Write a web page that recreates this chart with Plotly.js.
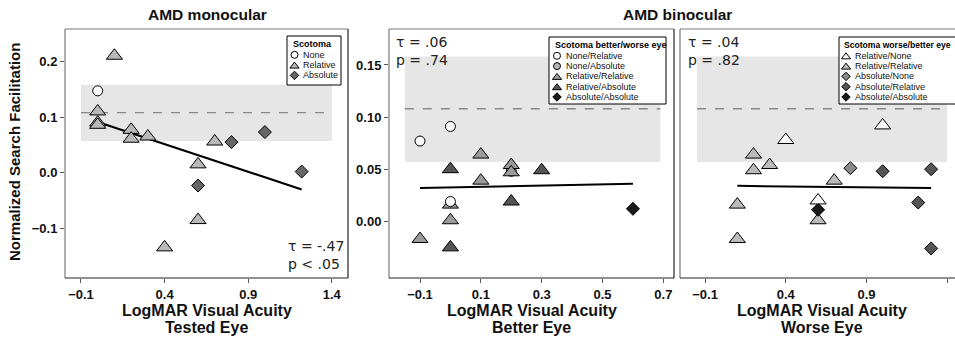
<!DOCTYPE html>
<html><head><meta charset="utf-8">
<script src="https://cdn.plot.ly/plotly-3.0.1.min.js"></script>
<style>body{margin:0;padding:0;background:#fff}#chart{width:955px;height:338px}</style>
</head><body><div id="chart"></div>
<script>
// ---------- DATA ----------
// Panel 1: AMD monocular, x = LogMAR tested eye
const monoNoneX = [0.0];
const monoNoneY = [0.147];
const monoRelX = [0.0, 0.0, 0.0, 0.1, 0.2, 0.2, 0.3, 0.4, 0.6, 0.6, 0.7];
const monoRelY = [0.110, 0.090, 0.086, 0.210, 0.077, 0.061, 0.065, -0.134, 0.015, -0.085, 0.056];
const monoAbsX = [0.6, 0.8, 1.0, 1.22];
const monoAbsY = [-0.023, 0.055, 0.073, 0.002];
const monoFitX = [0.0, 1.22];
const monoFitY = [0.091, -0.030];

// Panel 2: AMD binocular, x = LogMAR better eye
const betNoneRelX = [-0.1, 0.0, 0.0];
const betNoneRelY = [0.077, 0.091, 0.019];
const betNoneAbsX = [0.2];
const betNoneAbsY = [0.048];
const betRelRelX = [-0.1, 0.0, 0.0, 0.1, 0.1, 0.2, 0.2];
const betRelRelY = [-0.017, 0.001, 0.016, 0.064, 0.039, 0.054, 0.047];
const betRelAbsX = [0.0, 0.0, 0.2, 0.3];
const betRelAbsY = [0.050, -0.025, 0.019, 0.049];
const betAbsAbsX = [0.6];
const betAbsAbsY = [0.012];
const betFitX = [-0.1, 0.6];
const betFitY = [0.032, 0.036];

// Panel 3: AMD binocular, x = LogMAR worse eye
const worRelNoneX = [0.4, 1.0, 0.6];
const worRelNoneY = [0.078, 0.092, 0.020];
const worRelRelX = [0.1, 0.1, 0.2, 0.2, 0.3, 0.7, 0.6];
const worRelRelY = [0.016, -0.017, 0.064, 0.049, 0.054, 0.039, 0.001];
const worAbsNoneX = [0.8];
const worAbsNoneY = [0.051];
const worAbsRelX = [1.0, 1.3, 1.22, 1.3];
const worAbsRelY = [0.048, 0.050, 0.018, -0.026];
const worAbsAbsX = [0.6];
const worAbsAbsY = [0.011];
const worFitX = [0.1, 1.3];
const worFitY = [0.034, 0.032];

// Reference band (normal-vision range) and mean
const bandLow = 0.057, bandHigh = 0.158, bandMean = 0.108;

// Statistics text
const statsMono = ['τ = -.47', 'p < .05'];
const statsBet = ['τ = .06', 'p = .74'];
const statsWor = ['τ = .04', 'p = .82'];

// Tick labels
const xTicksMono = [-0.1, 0.4, 0.9, 1.4];
const xTicksBet = [-0.1, 0.1, 0.3, 0.5, 0.7];
const xTicksWor = [-0.1, 0.4, 0.9, 1.4];
const yTicksMono = [-0.1, 0.0, 0.1, 0.2];
const yTicksBin = [0.00, 0.05, 0.10, 0.15];

// Legend labels
const legMonoTitle = 'Scotoma';
const legMonoLabels = ['None', 'Relative', 'Absolute'];
const legBetTitle = 'Scotoma better/worse eye';
const legBetLabels = ['None/Relative', 'None/Absolute', 'Relative/Relative', 'Relative/Absolute', 'Absolute/Absolute'];
const legWorTitle = 'Scotoma worse/better eye';
const legWorLabels = ['Relative/None', 'Relative/Relative', 'Absolute/None', 'Absolute/Relative', 'Absolute/Absolute'];

// ---------- STYLE ----------
const W = 955, H = 338;
const TXT = '#111';
const FONT = 'Liberation Sans, Arial, Helvetica, sans-serif';
const SIZES = {'circle': 10, 'triangle-up': 14, 'diamond': 10};
const LSIZES = {'circle': 7, 'triangle-up': 8, 'diamond': 6.5};

const st = {
  monoNone: ['circle', '#fafafa'], monoRel: ['triangle-up', '#b8b8b8'], monoAbs: ['diamond', '#666666'],
  bNR: ['circle', '#fafafa'], bNA: ['circle', '#b5b5b5'], bRR: ['triangle-up', '#9a9a9a'], bRA: ['triangle-up', '#555555'], bAA: ['diamond', '#1a1a1a'],
  wRN: ['triangle-up', '#fafafa'], wRR: ['triangle-up', '#bbbbbb'], wAN: ['diamond', '#8a8a8a'], wAR: ['diamond', '#555555'], wAA: ['diamond', '#1a1a1a']
};

function pts(x, y, xa, ya, s) {
  return {type: 'scatter', mode: 'markers', x: x, y: y, xaxis: xa, yaxis: ya,
    marker: {symbol: s[0], size: SIZES[s[0]], color: s[1], line: {color: '#000', width: 1}},
    showlegend: false, hoverinfo: 'skip', cliponaxis: false};
}
function fit(x, y, xa, ya) {
  return {type: 'scatter', mode: 'lines', x: x, y: y, xaxis: xa, yaxis: ya,
    line: {color: '#000', width: 2}, showlegend: false, hoverinfo: 'skip'};
}

const traces = [
  fit(monoFitX, monoFitY, 'x', 'y'),
  pts(monoNoneX, monoNoneY, 'x', 'y', st.monoNone),
  pts(monoRelX, monoRelY, 'x', 'y', st.monoRel),
  pts(monoAbsX, monoAbsY, 'x', 'y', st.monoAbs),

  fit(betFitX, betFitY, 'x2', 'y2'),
  pts(betNoneAbsX, betNoneAbsY, 'x2', 'y2', st.bNA),
  pts(betRelRelX, betRelRelY, 'x2', 'y2', st.bRR),
  pts(betRelAbsX, betRelAbsY, 'x2', 'y2', st.bRA),
  pts(betNoneRelX, betNoneRelY, 'x2', 'y2', st.bNR),
  pts(betAbsAbsX, betAbsAbsY, 'x2', 'y2', st.bAA),

  fit(worFitX, worFitY, 'x3', 'y3'),
  pts(worRelRelX, worRelRelY, 'x3', 'y3', st.wRR),
  pts(worAbsAbsX, worAbsAbsY, 'x3', 'y3', st.wAA),
  pts(worRelNoneX, worRelNoneY, 'x3', 'y3', st.wRN),
  pts(worAbsNoneX, worAbsNoneY, 'x3', 'y3', st.wAN),
  pts(worAbsRelX, worAbsRelY, 'x3', 'y3', st.wAR)
];

// ---------- LAYOUT ----------
const yDom = [1 - 278 / H, 1 - 29 / H];
const tickFont = {family: FONT, size: 13, color: TXT, weight: 'bold'};
function xax(dom, range, tv, fmt) {
  return {domain: dom, range: range, tickvals: tv, tickformat: fmt, ticks: 'outside', ticklen: 4,
    tickcolor: '#555', tickwidth: 1, showgrid: false, zeroline: false, showline: false,
    tickfont: tickFont, fixedrange: true};
}
const layout = {
  width: W, height: H, margin: {l: 0, r: 0, t: 0, b: 0},
  paper_bgcolor: '#fff', plot_bgcolor: 'rgba(0,0,0,0)', showlegend: false,
  font: {family: FONT, color: TXT},
  xaxis: Object.assign(xax([65 / W, 348 / W], [-0.1956, 1.497], xTicksMono, '.1f'), {anchor: 'y'}),
  yaxis: Object.assign(xax(yDom, [-0.189, 0.258], yTicksMono, '.1f'), {anchor: 'x'}),
  xaxis2: Object.assign(xax([389 / W, 674 / W], [-0.2019, 0.735], xTicksBet, '.1f'), {anchor: 'y2'}),
  yaxis2: Object.assign(xax(yDom, [-0.0544, 0.1845], yTicksBin, '.2f'), {anchor: 'x2'}),
  xaxis3: Object.assign(xax([680 / W, 1], [-0.255, 1.448], xTicksWor, '.1f'), {anchor: 'y3'}),
  yaxis3: Object.assign(xax(yDom, [-0.0544, 0.1845], yTicksBin, '.2f'), {anchor: 'x3', showticklabels: false, ticks: ''}),
  xaxis4: {domain: [0, 1], range: [0, W], visible: false, fixedrange: true, anchor: 'y4'},
  yaxis4: {domain: [0, 1], range: [H, 0], visible: false, fixedrange: true, anchor: 'x4'},
  shapes: [], annotations: []
};

// band, mean line, frames
const bands = [['x', 'y', -0.1, 1.4], ['x2', 'y2', -0.15, 0.69], ['x3', 'y3', -0.15, 1.4]];
bands.forEach(b => {
  layout.shapes.push({type: 'rect', xref: b[0], yref: b[1], x0: b[2], x1: b[3], y0: bandLow, y1: bandHigh,
    fillcolor: '#e6e6e6', line: {width: 0}, layer: 'below'});
  layout.shapes.push({type: 'line', xref: b[0], yref: b[1], x0: b[2], x1: b[3], y0: bandMean, y1: bandMean,
    line: {color: '#888', width: 1.3, dash: 'dash'}, layer: 'below'});
});
[['x', 'y', true], ['x2', 'y2', true], ['x3', 'y3', false]].forEach(f => {
  const xr = f[0] + ' domain', yr = f[1] + ' domain';
  const L = (x0, y0, x1, y1, c) => layout.shapes.push({type: 'line', xref: xr, yref: yr, x0, y0, x1, y1, line: {color: c, width: 1.2}, layer: 'above'});
  L(0, 1, 1, 1, '#777');
  L(0, 0, 0, 1, '#777');
  L(0, 0, 1, 0, '#222');
  if (f[2]) L(1, 0, 1, 1, '#222');
});

// texts (pixel space via overlay axes x4/y4)
function txt(t, x, y, o) {
  layout.annotations.push(Object.assign({text: t, x: x, y: y, xref: 'x4', yref: 'y4', showarrow: false,
    xanchor: 'center', yanchor: 'middle', font: {family: FONT, size: 16, color: TXT, weight: 'bold'}}, o || {}));
}
txt('AMD monocular', 207, 14, {font: {family: FONT, size: 15.5, color: TXT, weight: 'bold'}});
txt('AMD binocular', 677, 14, {font: {family: FONT, size: 15.5, color: TXT, weight: 'bold'}});
txt('Normalized Search Facilitation', 14, 152, {textangle: -90, font: {family: FONT, size: 15, color: TXT, weight: 'bold'}});
[[206.5, 'Tested Eye'], [531.5, 'Better Eye'], [822, 'Worse Eye']].forEach(a => {
  txt('LogMAR Visual Acuity', a[0], 310);
  txt(a[1], a[0], 327);
});
const statFont = {family: 'DejaVu Sans, sans-serif', size: 14, color: '#222'};
[[statsMono, 286, 246], [statsBet, 394, 42], [statsWor, 686, 42]].forEach(s => {
  txt(s[0][0], s[1], s[2], {xanchor: 'left', font: statFont});
  txt(s[0][1], s[1], s[2] + 18, {xanchor: 'left', font: statFont});
});

// legends (manual, compact): box drawn in the overlay subplot's lower layer, glyphs as overlay markers
const legends = [
  {box: [287, 36, 341, 85], title: legMonoTitle, labels: legMonoLabels, styles: [st.monoNone, st.monoRel, st.monoAbs], tx: 291, sx: 294.5, lx: 301, tfs: 9},
  {box: [549, 37, 666, 104], title: legBetTitle, labels: legBetLabels, styles: [st.bNR, st.bNA, st.bRR, st.bRA, st.bAA], tx: 552.5, sx: 557, lx: 564, tfs: 9},
  {box: [839, 37, 962, 104], title: legWorTitle, labels: legWorLabels, styles: [st.wRN, st.wRR, st.wAN, st.wAR, st.wAA], tx: 841.5, sx: 846, lx: 853, tfs: 8.6}
];
legends.forEach(lg => {
  layout.shapes.push({type: 'rect', xref: 'x4', yref: 'y4', x0: lg.box[0], y0: lg.box[1], x1: lg.box[2], y1: lg.box[3],
    fillcolor: '#fff', line: {color: '#000', width: 1}, layer: 'below'});
  const y0 = lg.box[1] + 7.5, step = 10.3;
  txt(lg.title, lg.tx, y0, {xanchor: 'left', font: {family: FONT, size: lg.tfs, color: '#000', weight: 'bold'}});
  lg.labels.forEach((lab, i) => {
    const yy = y0 + step * (i + 1) + 1;
    txt(lab, lg.lx, yy, {xanchor: 'left', font: {family: FONT, size: 9, color: '#111'}});
    const s = lg.styles[i];
    traces.push({type: 'scatter', mode: 'markers', x: [lg.sx], y: [yy + (s[0] === 'triangle-up' ? 1 : 0)], xaxis: 'x4', yaxis: 'y4',
      marker: {symbol: s[0], size: LSIZES[s[0]], color: s[1], line: {color: '#000', width: 1}},
      showlegend: false, hoverinfo: 'skip', cliponaxis: false});
  });
});

Plotly.newPlot('chart', traces, layout, {staticPlot: true, displayModeBar: false});
</script></body></html>
